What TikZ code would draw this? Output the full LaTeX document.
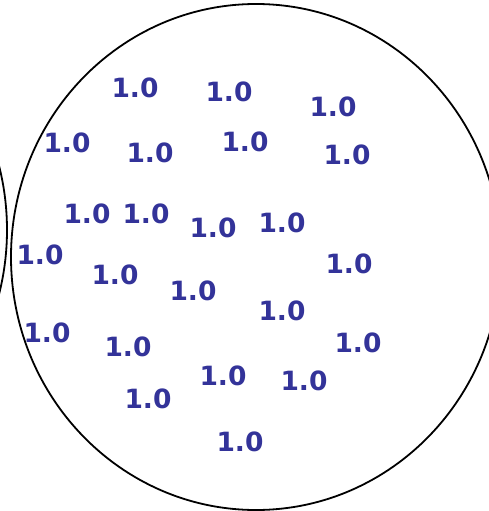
\documentclass[tikz,border=0pt]{standalone}
\usepackage{fontspec}
\setmainfont{DejaVu Sans}
\definecolor{numblue}{RGB}{51,51,153}
\begin{document}
\begin{tikzpicture}[x=1pt,y=-1pt,
  val/.style={text=numblue,font=\bfseries\fontsize{26.5}{26.5}\selectfont,anchor=base,inner sep=0pt},
  ring/.style={draw=black,line width=1.8pt}]
\useasboundingbox (0,0) rectangle (489,511);
\begin{scope}
\clip (0,0) rectangle (489,511);
\draw[ring] (256,257) ellipse [x radius=245, y radius=253];
\draw[ring] (-238,230) ellipse [x radius=245, y radius=253];
\end{scope}
\node[val] (t1) at (135,97) {1.0};
\node[val] (t2) at (229,101.5) {1.0};
\node[val] (t3) at (333,116) {1.0};
\node[val] (t4) at (67,152) {1.0};
\node[val] (t5) at (150,162) {1.0};
\node[val] (t6) at (245,151) {1.0};
\node[val] (t7) at (347,164) {1.0};
\node[val] (t8) at (87,223) {1.0};
\node[val] (t9) at (146,223) {1.0};
\node[val] (t10) at (213,237) {1.0};
\node[val] (t11) at (282,232) {1.0};
\node[val] (t12) at (40,264) {1.0};
\node[val] (t13) at (349,273) {1.0};
\node[val] (t14) at (115,284) {1.0};
\node[val] (t15) at (193,300) {1.0};
\node[val] (t16) at (282,320) {1.0};
\node[val] (t17) at (47,342) {1.0};
\node[val] (t18) at (128,356) {1.0};
\node[val] (t19) at (358,352) {1.0};
\node[val] (t20) at (223,385) {1.0};
\node[val] (t21) at (304,390) {1.0};
\node[val] (t22) at (148,408) {1.0};
\node[val] (t23) at (240,451) {1.0};
\end{tikzpicture}
\end{document}
